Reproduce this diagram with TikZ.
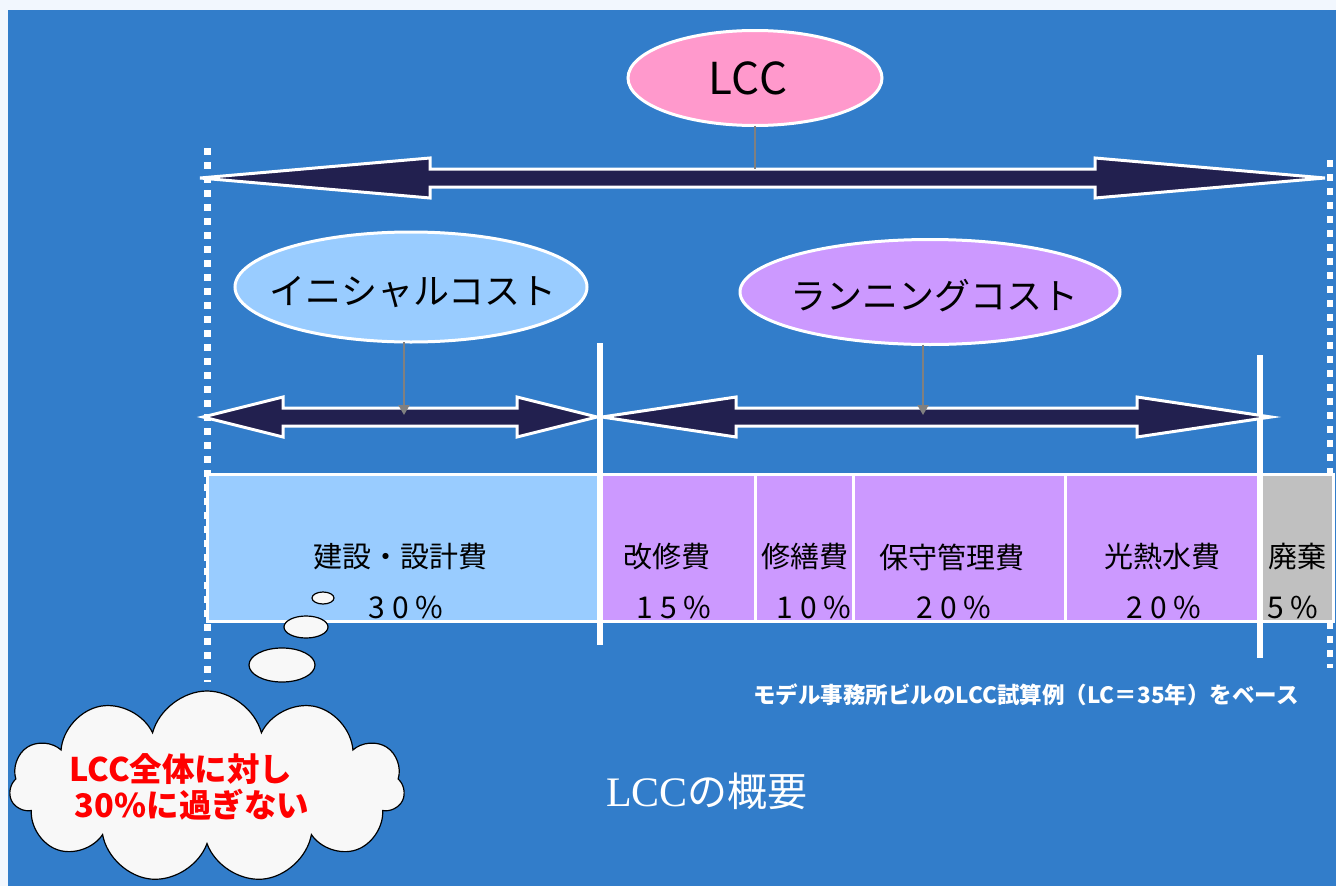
\documentclass[tikz,border=0pt]{standalone}
\usepackage{fontspec}
\setmainfont{Liberation Serif}
\newfontfamily\jp{Noto Sans CJK JP}
\usetikzlibrary{shapes.geometric,shapes.symbols,arrows.meta}
\definecolor{pagebg}{HTML}{F2F7FE}
\definecolor{slideblue}{HTML}{327DCA}
\definecolor{lccpink}{HTML}{FF99CC}
\definecolor{initblue}{HTML}{99CCFF}
\definecolor{runpurple}{HTML}{CC99FF}
\definecolor{dispgray}{HTML}{C0C0C0}
\definecolor{navy}{HTML}{22204F}
\definecolor{bubble}{HTML}{F8F8F8}
\definecolor{leadgray}{HTML}{808080}
\newcommand\fatdarrow[6]{% x1, x2, y, headlen, headhalf, shafthalf
  \filldraw[fatarrowstyle] (#1,#3) -- ({#1+#4},{#3-#5}) -- ({#1+#4},{#3-#6}) -- ({#2-#4},{#3-#6}) -- ({#2-#4},{#3-#5}) -- (#2,#3) -- ({#2-#4},{#3+#5}) -- ({#2-#4},{#3+#6}) -- ({#1+#4},{#3+#6}) -- ({#1+#4},{#3+#5}) -- cycle;}
\newcommand\jpsize[1]{\fontsize{#1}{#1}\selectfont}
\tikzset{
  fatarrowstyle/.style={fill=navy, draw=white, line width=3},
  oval/.style={ellipse, draw=white, line width=3, inner sep=0, outer sep=0},
  ovaltext/.style={font=\jp\jpsize{36}, text=black, inner sep=0},
  seg/.style={rectangle, draw=white, line width=3, inner sep=0, outer sep=0, anchor=north west, minimum height=147},
  segtext/.style={font=\jp\jpsize{29}, text=black, inner sep=0},
  pcttext/.style={font=\jp\jpsize{30}\addfontfeature{LetterSpace=22}, text=black, inner sep=0},
  lead/.style={leadgray, line width=2},
  dotline/.style={white, line width=7, dash pattern=on 7 off 7},
  divider/.style={white, line width=6},
  thought/.style={ellipse, draw=black, line width=1.2, fill=bubble, inner sep=0},
  cloudtext/.style={font=\jp\bfseries\jpsize{32.5}, text=red, inner sep=0},
}
\begin{document}
\begin{tikzpicture}[x=1pt,y=-1pt]
\useasboundingbox (0,0) rectangle (1336,886);
\fill[pagebg] (0,0) rectangle (1336,886);
\fill[slideblue] (8,10) rectangle (1336,886);

% dotted boundary lines
\draw[dotline] (207,148) -- (207,682);
\draw[dotline, line width=6] (1330,160) -- (1330,668);

% LCC
\node[oval, fill=lccpink, minimum width=254, minimum height=95] (lcc) at (755,78) {};
\node[ovaltext, font=\jp\jpsize{44}\addfontfeature{LetterSpace=2}] (lcct) at (748,78) {LCC};
\fatdarrow{200}{1325}{178}{230}{20}{9}
\coordinate (a1top) at (755,169);
\draw[lead] (lcc.south) -- (a1top);

% initial / running cost
\node[oval, fill=initblue, minimum width=352, minimum height=110] (init) at (411,287) {};
\node[ovaltext] (initt) at (413,292) {イニシャルコスト};
\node[oval, fill=runpurple, minimum width=380, minimum height=105] (run) at (930,292) {};
\node[ovaltext] (runt) at (934,296) {ランニングコスト};

% bar segments
\node[seg, fill=initblue, minimum width=393] (s1) at (207,474) {};
\node[seg, fill=runpurple, minimum width=155] (s2) at (600,474) {};
\node[seg, fill=runpurple, minimum width=98] (s3) at (755,474) {};
\node[seg, fill=runpurple, minimum width=212] (s4) at (853,474) {};
\node[seg, fill=runpurple, minimum width=195] (s5) at (1065,474) {};
\node[seg, fill=dispgray, minimum width=73] (s6) at (1260,474) {};

% dividers
\draw[divider] (600,343) -- (600,645);
\draw[divider] (1260,355) -- (1260,658);

\fatdarrow{203}{597}{417}{80}{20}{9}
\fatdarrow{602}{1271}{417}{134}{20}{9}
\coordinate (a2top) at (404,415);
\coordinate (a3top) at (923,415);
\draw[lead, -{Triangle[length=10,width=11]}] (init.south -| a2top) -- (a2top);
\draw[lead, -{Triangle[length=10,width=11]}] (run.south -| a3top) -- (a3top);

% bar labels
\node[segtext] (t1) at (400,557) {建設・設計費};
\node[pcttext] (p1) at (406,607) {30\%};
\node[segtext] (t2) at (667,557) {改修費};
\node[pcttext] (p2) at (674,607) {15\%};
\node[segtext] (t3) at (805,557) {修繕費};
\node[pcttext] (p3) at (814,607) {10\%};
\node[segtext] (t4) at (952,557) {保守管理費};
\node[pcttext] (p4) at (954,607) {20\%};
\node[segtext] (t5) at (1162,557) {光熱水費};
\node[pcttext] (p5) at (1164,607) {20\%};
\node[segtext] (t6) at (1297,557) {廃棄};
\node[pcttext] (p6) at (1293,607) {5\%};

% note
\node[font=\jp\bfseries\jpsize{22.5}, text=white, inner sep=0] (note) at (1026,695) {モデル事務所ビルのLCC試算例（LC＝35年）をベース};

% title
\node[text=white, inner sep=0] (title) at (707,791) {\fontsize{42}{42}\selectfont LCC{\jp\jpsize{40}の概要}};

% thought bubbles
\node[thought, minimum width=22, minimum height=12] (b1) at (323,598) {};
\node[thought, minimum width=44, minimum height=22] (b2) at (306,627) {};
\node[thought, minimum width=66, minimum height=34] (b3) at (282,665) {};
\node[cloud, cloud puffs=11, aspect=2.1, draw=black, line width=1.2, fill=bubble, minimum width=395, minimum height=192, inner sep=0] (cloud) at (207,787) {};
\node[cloudtext] (c1) at (181,769) {LCC全体に対し};
\node[cloudtext] (c2) at (192,805) {30\%に過ぎない};
\end{tikzpicture}
\end{document}
